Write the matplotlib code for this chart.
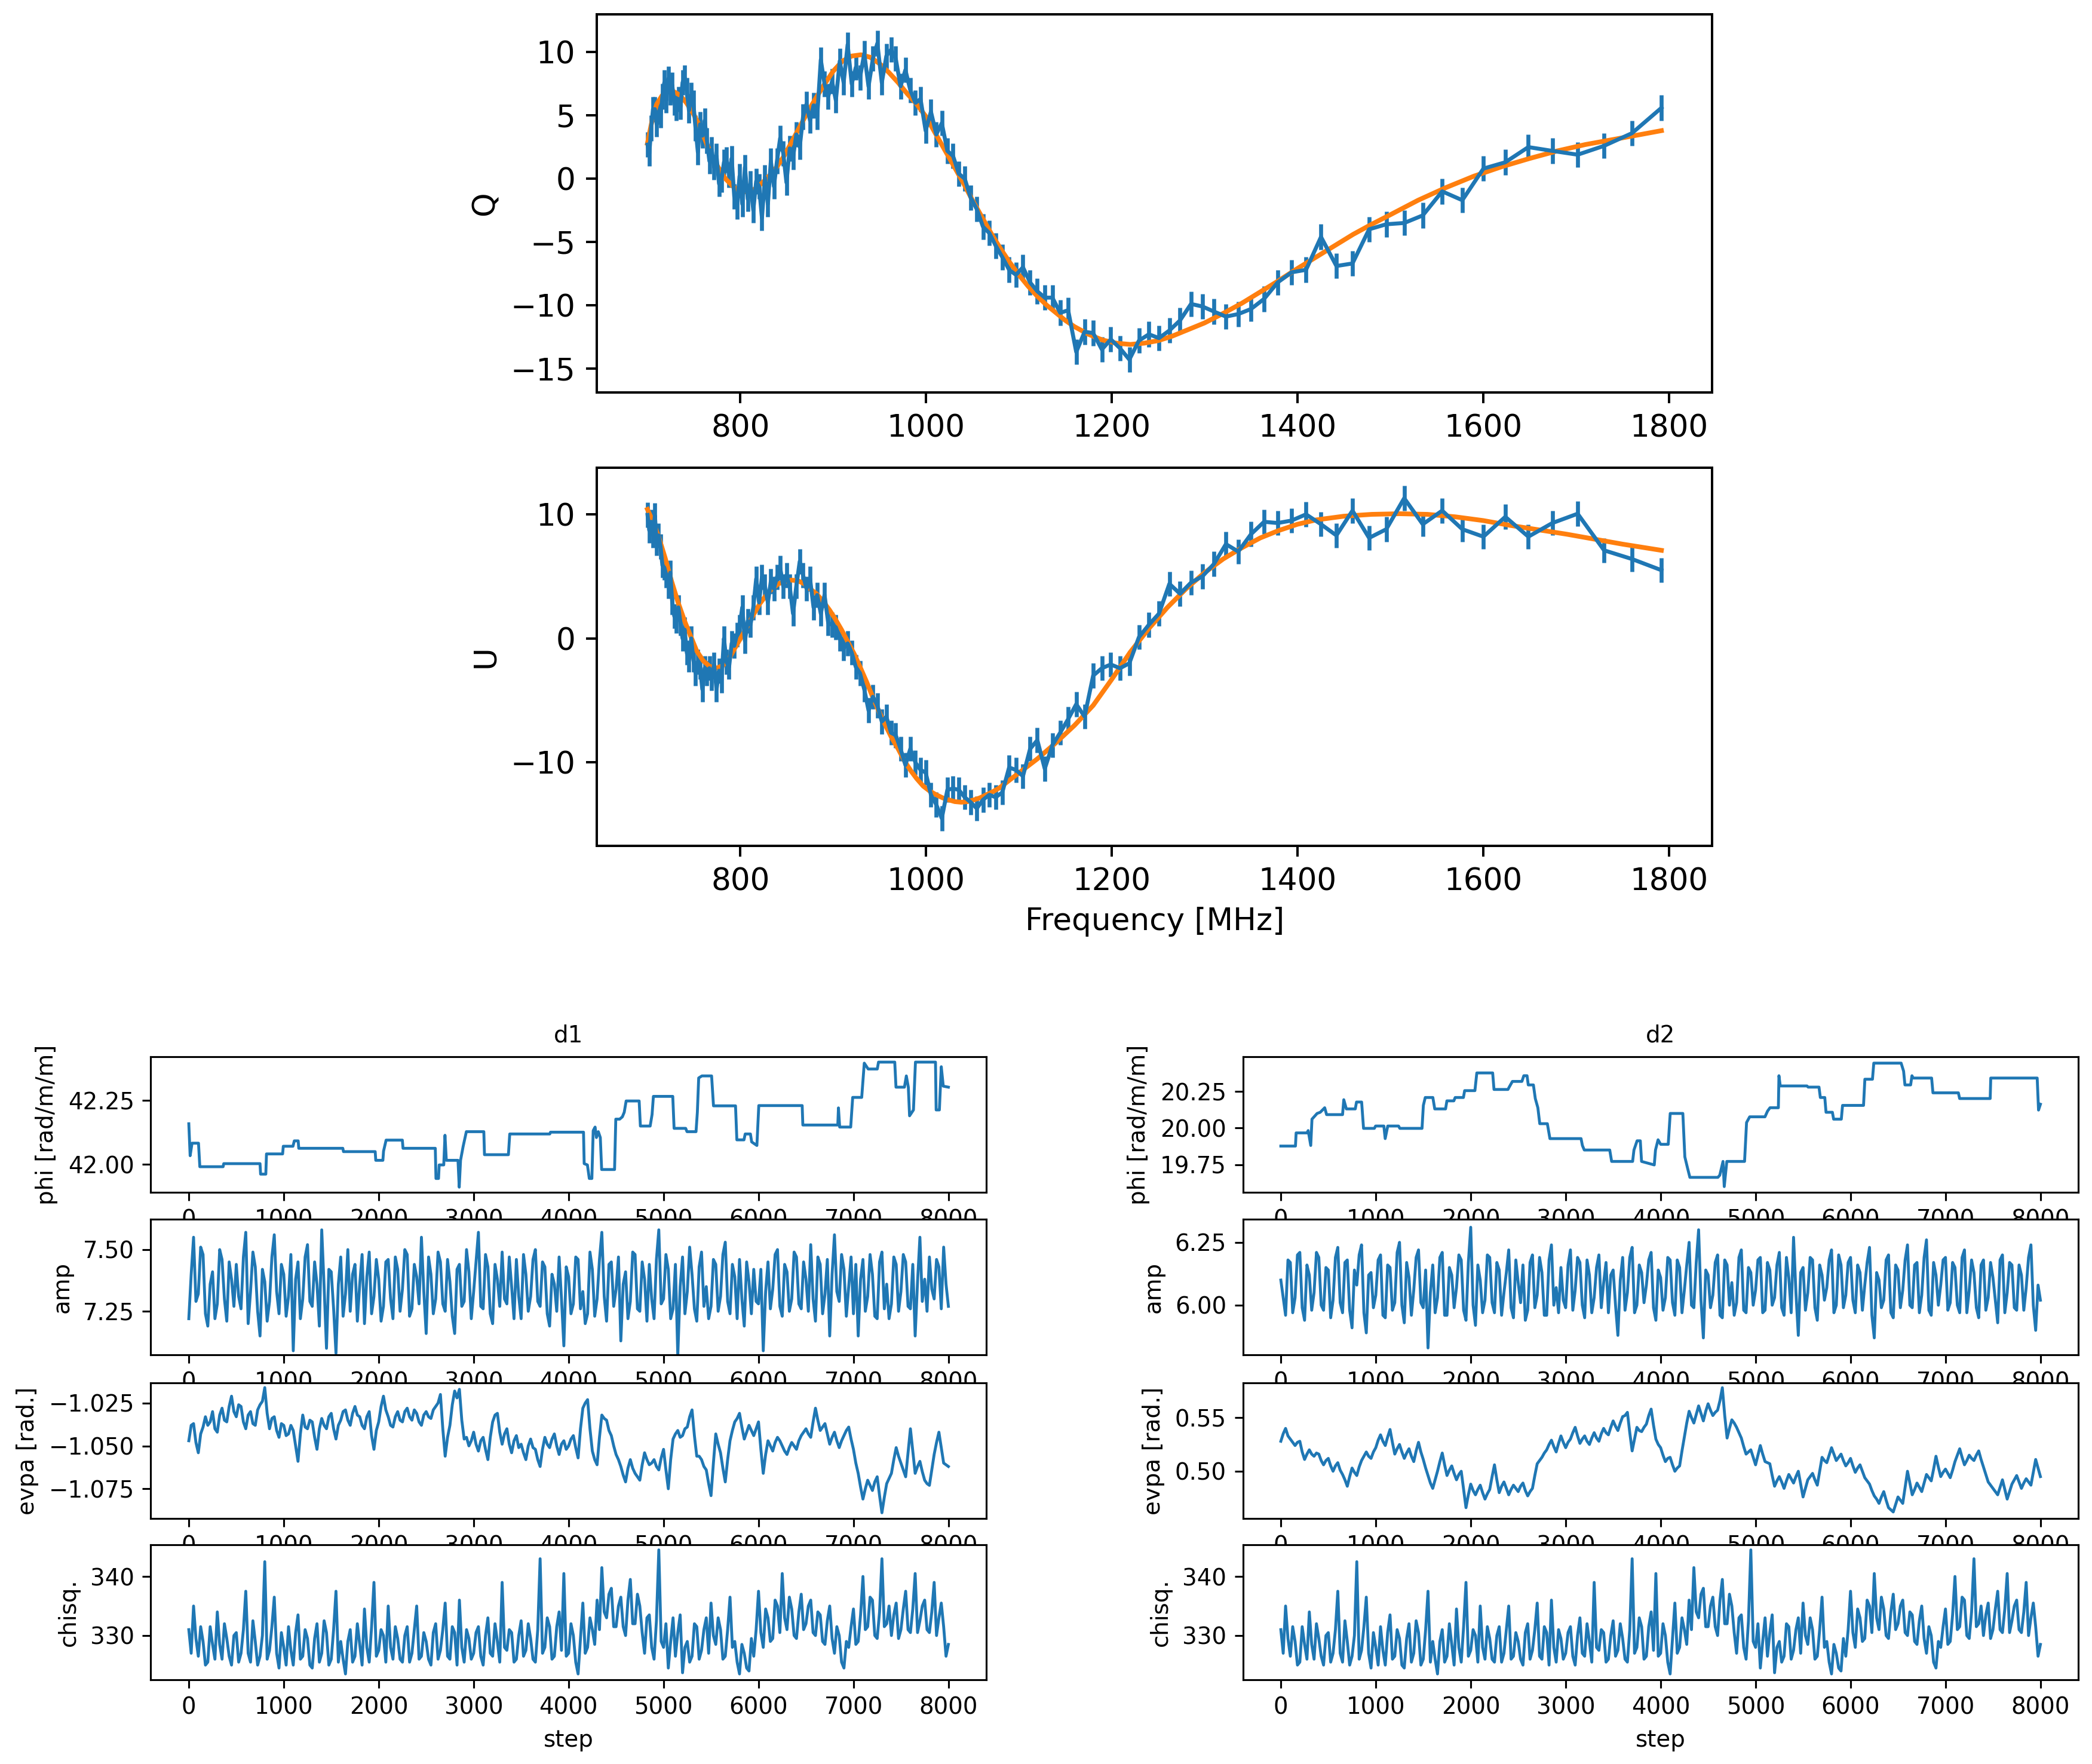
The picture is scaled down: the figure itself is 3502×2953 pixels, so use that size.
import numpy as np
import matplotlib
matplotlib.use("Agg")
import matplotlib.pyplot as plt

# ---- Stokes Q / U spectra (blue = data, orange = model) ----
freq_mhz = [
    700.1, 702.0, 704.0, 706.0, 708.0, 710.0, 712.0, 714.1, 716.1, 718.2,
    720.3, 722.4, 724.6, 726.7, 728.9, 731.1, 733.3, 735.6, 737.8, 740.1,
    742.4, 744.7, 747.1, 749.4, 751.8, 754.3, 756.7, 759.1, 761.6, 764.1,
    766.7, 769.2, 771.8, 774.4, 777.1, 779.7, 782.4, 785.1, 787.9, 790.7,
    793.5, 796.3, 799.2, 802.1, 805.0, 808.0, 811.0, 814.0, 817.1, 820.2,
    823.3, 826.5, 829.7, 832.9, 836.2, 839.5, 842.9, 846.3, 849.7, 853.2,
    856.8, 860.3, 864.0, 867.6, 871.3, 875.1, 878.9, 882.8, 886.7, 890.7,
    894.7, 898.8, 902.9, 907.1, 911.3, 915.6, 920.0, 924.4, 928.9, 933.5,
    938.1, 942.8, 947.6, 952.4, 957.3, 962.3, 967.4, 972.6, 977.8, 983.1,
    988.6, 994.1, 999.6, 1005.3, 1011.1, 1017.0, 1023.0, 1029.1, 1035.3, 1041.7,
    1048.1, 1054.7, 1061.4, 1068.2, 1075.1, 1082.2, 1089.5, 1096.9, 1104.4, 1112.1,
    1119.9, 1127.9, 1136.1, 1144.5, 1153.1, 1161.8, 1170.8, 1180.0, 1189.4, 1199.0,
    1208.9, 1219.0, 1229.3, 1240.0, 1250.9, 1262.1, 1273.6, 1285.4, 1297.6, 1310.1,
    1323.0, 1336.3, 1350.0, 1364.1, 1378.7, 1393.7, 1409.3, 1425.4, 1442.0, 1459.3,
    1477.2, 1495.7, 1515.0, 1535.0, 1555.9, 1577.6, 1600.3, 1623.9, 1648.7, 1674.6,
    1701.8, 1730.3, 1760.3, 1792.0]

q_obs = [
    2.7, 2.0, 4.0, 5.5, 5.5, 4.3, 5.3, 5.0, 6.5, 7.6,
    6.2, 7.9, 6.8, 7.4, 6.0, 5.6, 6.3, 5.7, 7.6, 8.0,
    7.0, 5.4, 6.6, 6.0, 4.0, 2.1, 4.3, 3.4, 4.6, 3.0,
    1.4, 2.3, 0.9, 1.8, -0.4, -0.1, 1.3, 1.5, 0.3, 1.6,
    -1.4, -2.2, 0.2, -2.0, 0.9, -1.6, -0.4, -2.5, -0.2, -0.6,
    -3.1, 0.1, -2.0, 1.4, -0.6, 1.4, 3.2, 2.0, -0.3, 2.4,
    1.7, 3.5, 2.5, 4.9, 5.9, 4.6, 5.8, 4.9, 9.4, 7.5,
    6.5, 7.7, 6.2, 9.3, 7.6, 10.6, 7.5, 8.8, 8.0, 9.9,
    7.3, 9.5, 10.7, 7.6, 9.7, 10.2, 9.5, 7.3, 8.6, 7.0,
    6.0, 6.3, 3.8, 5.3, 3.5, 4.4, 2.2, 1.8, 0.4, 0.0,
    -1.5, -2.4, -3.8, -4.3, -5.3, -6.2, -7.2, -7.6, -7.0, -8.2,
    -8.9, -9.4, -9.4, -10.6, -10.4, -13.7, -12.1, -12.2, -13.5, -12.7,
    -13.4, -14.3, -12.8, -12.3, -12.6, -12.0, -11.2, -9.9, -10.1, -10.5,
    -10.9, -10.7, -10.3, -9.5, -8.2, -7.4, -7.2, -4.6, -6.9, -6.7,
    -4.0, -3.6, -3.5, -2.9, -1.0, -1.7, 0.8, 1.3, 2.5, 2.2,
    1.9, 2.6, 3.6, 5.6]

u_obs = [
    9.95, 8.7, 9.4, 8.3, 9.9, 7.7, 8.3, 7.4, 5.9, 5.7,
    5.1, 4.2, 5.3, 2.9, 1.8, 1.4, 2.5, 1.25, 0.0, 0.7,
    -1.15, -1.7, 0.0, -1.7, -2.8, -1.9, -2.3, -4.1, -2.4, -2.8,
    -2.4, -3.2, -2.1, -4.1, -2.6, -3.4, 0.0, -1.9, -2.3, -0.4,
    -0.6, 0.3, 0.9, 2.5, -0.2, 1.4, 1.1, 2.5, 4.8, 2.9,
    4.95, 4.2, 2.9, 4.6, 4.0, 4.95, 5.7, 4.2, 5.1, 4.2,
    2.0, 4.2, 6.2, 5.1, 4.0, 4.8, 2.5, 3.5, 2.0, 3.5,
    1.25, 1.1, 0.9, 0.0, -0.8, -0.4, -1.15, -2.3, -2.8, -4.1,
    -5.8, -4.7, -5.4, -6.7, -6.3, -7.6, -7.8, -8.9, -10.2, -8.9,
    -10.0, -10.6, -10.8, -12.6, -13.4, -14.5, -12.2, -12.1, -12.2, -12.8,
    -13.2, -13.7, -13.0, -12.6, -12.8, -12.4, -10.4, -10.6, -11.1, -8.9,
    -8.2, -10.5, -8.6, -7.6, -6.5, -5.3, -6.3, -3.0, -2.4, -2.1,
    -2.4, -2.0, 0.1, 1.1, 2.0, 4.4, 3.6, 4.5, 5.0, 6.0,
    7.6, 7.0, 8.4, 9.4, 9.3, 9.5, 10.0, 9.2, 8.3, 10.3,
    8.1, 8.8, 11.3, 9.2, 10.3, 8.8, 8.2, 9.8, 8.2, 9.3,
    10.05, 7.1, 6.4, 5.5]

qu_err = 1.0

q_model_freq = [
    700, 705, 710, 716, 722, 728, 735, 742, 749, 756, 763, 770, 777, 784, 792,
    800, 808, 816, 824, 832, 840, 848, 856, 864, 872, 880, 890, 900, 910, 920,
    930, 940, 950, 960, 970, 980, 990, 1000, 1010, 1020, 1030, 1040, 1050, 1060,
    1070, 1080, 1090, 1100, 1110, 1120, 1130, 1140, 1150, 1160, 1175, 1190, 1205,
    1220, 1235, 1250, 1265, 1280, 1300, 1320, 1340, 1360, 1380, 1400, 1420, 1440,
    1460, 1480, 1500, 1530, 1560, 1590, 1620, 1650, 1680, 1710, 1740, 1770, 1792]
q_model = [
    2.8, 4.6, 5.9, 6.6, 6.9, 6.9, 6.6, 6.0, 5.2, 4.2, 2.9, 1.7, 0.8, 0.0, -0.6,
    -1.0, -1.05, -0.8, -0.3, 0.3, 1.0, 1.9, 3.0, 4.1, 5.2, 6.2, 7.4, 8.5, 9.3, 9.7,
    9.8, 9.6, 9.1, 8.4, 7.6, 6.7, 5.9, 4.9, 3.6, 2.3, 1.0, -0.3, -1.7, -3.0,
    -4.3, -5.5, -6.6, -7.6, -8.5, -9.3, -10.0, -10.6, -11.2, -11.7, -12.3, -12.75, -13.0,
    -13.1, -13.0, -12.8, -12.45, -12.0, -11.4, -10.65, -9.85, -8.95, -8.05, -7.1, -6.2, -5.3,
    -4.4, -3.6, -2.85, -1.7, -0.7, 0.2, 0.95, 1.6, 2.2, 2.7, 3.1, 3.5, 3.8]

u_model_freq = [
    700, 706, 712, 719, 726, 733, 740, 747, 753, 760, 767, 774, 781, 788, 794,
    801, 807, 814, 821, 828, 834, 841, 848, 855, 862, 869, 875, 882, 889, 896,
    902, 909, 916, 923, 929, 936, 943, 950, 957, 963, 970, 977, 984, 990, 997,
    1004, 1011, 1018, 1024, 1031, 1038, 1045, 1052, 1058, 1065, 1072, 1079, 1092,
    1106, 1120, 1140, 1160, 1180, 1200, 1220, 1240, 1260, 1280, 1300, 1320, 1340,
    1360, 1380, 1400, 1420, 1450, 1480, 1510, 1540, 1570, 1600, 1630, 1660, 1690,
    1720, 1750, 1792]
u_model = [
    10.4, 9.4, 8.2, 6.5, 4.6, 2.9, 1.4, 0.1, -1.0, -1.8, -2.25, -2.4, -2.2, -1.6, -0.8,
    0.1, 0.9, 1.9, 2.8, 3.5, 4.0, 4.4, 4.6, 4.7, 4.65, 4.4, 4.0, 3.6, 3.0, 2.3,
    1.6, 0.7, -0.3, -1.3, -2.3, -3.5, -4.8, -6.0, -7.1, -8.0, -8.9, -9.9, -10.7, -11.3, -11.9,
    -12.3, -12.6, -12.85, -13.0, -13.15, -13.2, -13.15, -13.0, -12.85, -12.6, -12.35, -12.05, -11.3,
    -10.5, -9.7, -8.4, -7.0, -5.4, -3.3, -1.1, 0.8, 2.5, 4.0, 5.3, 6.4, 7.3,
    8.1, 8.7, 9.2, 9.55, 9.85, 10.0, 10.05, 10.0, 9.8, 9.5, 9.1, 8.75, 8.4,
    8.0, 7.6, 7.1]

# ---- MCMC chains ----
# phi chains: corner points of the (piecewise constant) walk
phi1_step = [
    0, 14, 34, 102, 116, 361, 368, 750, 756, 811, 818, 988, 995, 1097, 1111, 1152,
    1158, 1622, 1629, 1963, 1969, 2044, 2051, 2078, 2249, 2256, 2596, 2603, 2630, 2637,
    2685, 2698, 2712, 2835, 2848, 2862, 2889, 2923, 3107, 3114, 3366, 3380, 3802, 3809,
    4157, 4164, 4198, 4218, 4245, 4259, 4279, 4293, 4313, 4334, 4348, 4484, 4497, 4538,
    4566, 4586, 4606, 4743, 4756, 4859, 4879, 4893, 5097, 5111, 5233, 5247, 5342, 5356,
    5370, 5404, 5506, 5526, 5758, 5772, 5847, 5860, 5915, 5928, 5983, 6003, 6460, 6467,
    6835, 6842, 6855, 6971, 6992, 7087, 7114, 7155, 7251, 7264, 7435, 7448, 7537, 7557,
    7578, 7591, 7632, 7653, 7864, 7871, 7905, 7925, 7946, 8000]
phi1_val = [
    42.159, 42.034, 42.083, 42.083, 41.991, 41.991, 42.003, 42.003, 41.962, 41.962,
    42.041, 42.041, 42.071, 42.071, 42.092, 42.092, 42.063, 42.063, 42.050, 42.050,
    42.016, 42.016, 42.052, 42.095, 42.095, 42.063, 42.063, 41.945, 41.945, 41.998,
    41.998, 42.114, 42.016, 42.016, 41.911, 42.016, 42.070, 42.128, 42.128, 42.038,
    42.038, 42.119, 42.119, 42.126, 42.126, 42.003, 41.998, 41.945, 41.945, 42.132,
    42.146, 42.105, 42.128, 42.105, 41.980, 41.980, 42.177, 42.177, 42.186, 42.204,
    42.248, 42.248, 42.150, 42.150, 42.195, 42.266, 42.266, 42.141, 42.141, 42.128,
    42.128, 42.204, 42.338, 42.346, 42.346, 42.229, 42.229, 42.096, 42.096, 42.119,
    42.119, 42.088, 42.074, 42.230, 42.230, 42.154, 42.154, 42.221, 42.146, 42.146,
    42.262, 42.262, 42.396, 42.373, 42.373, 42.400, 42.400, 42.302, 42.302, 42.346,
    42.302, 42.190, 42.213, 42.400, 42.400, 42.213, 42.213, 42.382, 42.306, 42.302]

phi2_step = [
    0, 154, 161, 275, 288, 315, 328, 382, 415, 462, 482, 650, 663, 690, 784, 797,
    851, 871, 985, 998, 1085, 1099, 1126, 1240, 1253, 1487, 1501, 1521, 1601, 1621,
    1735, 1749, 1822, 1836, 1923, 1936, 2044, 2064, 2231, 2245, 2392, 2405, 2439, 2539,
    2559, 2593, 2606, 2660, 2680, 2707, 2727, 2807, 2834, 3162, 3176, 3196, 3464, 3484,
    3705, 3719, 3752, 3786, 3799, 3933, 3946, 3973, 4000, 4080, 4101, 4234, 4255, 4281,
    4308, 4603, 4623, 4657, 4670, 4697, 4884, 4905, 4938, 5099, 5126, 5152, 5240, 5246,
    5260, 5541, 5554, 5668, 5682, 5729, 5742, 5809, 5822, 5903, 5916, 6137, 6151, 6231,
    6245, 6533, 6559, 6573, 6633, 6647, 6660, 6854, 6868, 7136, 7149, 7471, 7477, 7966,
    7980, 8000]
phi2_val = [
    19.877, 19.877, 19.967, 19.967, 19.983, 19.881, 20.061, 20.100, 20.108, 20.139,
    20.092, 20.092, 20.194, 20.131, 20.131, 20.178, 20.178, 19.998, 19.998, 20.014,
    20.014, 19.928, 20.014, 20.014, 19.998, 19.998, 20.155, 20.209, 20.209, 20.131,
    20.131, 20.186, 20.186, 20.209, 20.209, 20.256, 20.256, 20.377, 20.377, 20.264,
    20.264, 20.280, 20.319, 20.319, 20.358, 20.358, 20.295, 20.295, 20.202, 20.139,
    20.030, 20.030, 19.928, 19.928, 19.881, 19.850, 19.850, 19.772, 19.772, 19.850,
    19.913, 19.913, 19.772, 19.748, 19.850, 19.920, 19.889, 19.889, 20.100, 20.100,
    19.803, 19.733, 19.663, 19.663, 19.678, 19.772, 19.600, 19.772, 19.772, 20.038,
    20.077, 20.077, 20.116, 20.139, 20.139, 20.358, 20.288, 20.288, 20.280, 20.280,
    20.209, 20.209, 20.108, 20.108, 20.061, 20.061, 20.155, 20.155, 20.334, 20.334,
    20.444, 20.444, 20.389, 20.295, 20.295, 20.358, 20.342, 20.342, 20.241, 20.241,
    20.202, 20.202, 20.342, 20.342, 20.123, 20.163]

# other chains: values read every 50 steps (0..8000) plus the
# in-between samples (25..7975)
amp1 = [
    7.22, 7.55, 7.32, 7.48, 7.19, 7.41, 7.28, 7.46, 7.21, 7.38,
    7.44, 7.26, 7.57, 7.33, 7.43, 7.15, 7.37, 7.29, 7.56, 7.24,
    7.40, 7.31, 7.09, 7.45, 7.30, 7.52, 7.27, 7.36, 7.58, 7.10,
    7.41, 7.08, 7.47, 7.32, 7.25, 7.44, 7.36, 7.20, 7.49, 7.31,
    7.38, 7.27, 7.46, 7.22, 7.42, 7.34, 7.48, 7.26, 7.39, 7.55,
    7.16, 7.40, 7.30, 7.45, 7.25, 7.37, 7.16, 7.44, 7.29, 7.41,
    7.33, 7.57, 7.26, 7.43, 7.20, 7.38, 7.49, 7.28, 7.35, 7.46,
    7.22, 7.40, 7.31, 7.50, 7.27, 7.43, 7.19, 7.36, 7.47, 7.11,
    7.39, 7.28, 7.46, 7.33, 7.24, 7.42, 7.30, 7.57, 7.21, 7.45,
    7.34, 7.13, 7.41, 7.29, 7.48, 7.25, 7.38, 7.44, 7.22, 7.58,
    7.30, 7.42, 7.26, 7.07, 7.47, 7.33, 7.40, 7.21, 7.49, 7.35,
    7.27, 7.44, 7.31, 7.53, 7.24, 7.39, 7.46, 7.19, 7.37, 7.42,
    7.28, 7.09, 7.45, 7.34, 7.50, 7.23, 7.41, 7.30, 7.47, 7.26,
    7.38, 7.52, 7.21, 7.44, 7.32, 7.15, 7.56, 7.29, 7.42, 7.35,
    7.24, 7.15, 7.46, 7.31, 7.40, 7.22, 7.49, 7.36, 7.28, 7.44,
    7.33, 7.45, 7.26, 7.15, 7.55, 7.38, 7.47, 7.30, 7.43, 7.51,
    7.27]
amp1_mid = [
    7.40, 7.29, 7.51, 7.24, 7.36, 7.22, 7.50, 7.30, 7.45, 7.27,
    7.31, 7.47, 7.20, 7.49, 7.25, 7.42, 7.21, 7.47, 7.33, 7.44,
    7.23, 7.48, 7.38, 7.22, 7.47, 7.29, 7.45, 7.19, 7.35, 7.42,
    7.26, 7.36, 7.23, 7.50, 7.40, 7.21, 7.48, 7.39, 7.24, 7.46,
    7.21, 7.45, 7.30, 7.47, 7.25, 7.50, 7.23, 7.44, 7.28, 7.33,
    7.47, 7.24, 7.49, 7.28, 7.46, 7.23, 7.42, 7.27, 7.50, 7.22,
    7.45, 7.27, 7.48, 7.24, 7.44, 7.27, 7.30, 7.47, 7.22, 7.31,
    7.48, 7.25, 7.46, 7.29, 7.45, 7.24, 7.40, 7.25, 7.30, 7.43,
    7.24, 7.47, 7.26, 7.20, 7.49, 7.23, 7.46, 7.31, 7.44, 7.27,
    7.47, 7.36, 7.22, 7.49, 7.26, 7.45, 7.21, 7.30, 7.46, 7.28,
    7.48, 7.22, 7.44, 7.35, 7.24, 7.51, 7.26, 7.43, 7.27, 7.22,
    7.46, 7.25, 7.48, 7.29, 7.44, 7.22, 7.30, 7.45, 7.24, 7.29,
    7.42, 7.33, 7.26, 7.48, 7.27, 7.44, 7.25, 7.49, 7.28, 7.45,
    7.25, 7.30, 7.47, 7.24, 7.46, 7.40, 7.33, 7.48, 7.23, 7.47,
    7.44, 7.38, 7.25, 7.48, 7.23, 7.45, 7.26, 7.22, 7.47, 7.25,
    7.48, 7.27, 7.44, 7.37, 7.29, 7.25, 7.34, 7.46, 7.26, 7.36]

amp2 = [
    6.10, 5.96, 6.17, 6.03, 6.21, 5.94, 6.12, 6.05, 6.19, 5.98,
    6.14, 6.02, 6.23, 5.97, 6.18, 5.91, 6.08, 6.24, 5.89, 6.13,
    6.04, 6.20, 5.95, 6.15, 6.01, 6.25, 5.93, 6.11, 6.06, 6.22,
    5.99, 5.83, 6.16, 6.03, 6.21, 5.96, 6.12, 6.07, 6.18, 5.94,
    6.31, 5.92, 6.10, 6.02, 6.19, 5.97, 6.14, 6.05, 6.22, 5.95,
    6.09, 6.16, 5.98, 6.20, 6.04, 6.13, 5.96, 6.24, 6.07, 6.15,
    5.99, 6.22, 6.06, 6.17, 5.95, 6.12, 6.03, 6.20, 6.09, 5.97,
    6.14, 5.88, 6.19, 6.05, 6.23, 6.00, 6.13, 6.08, 6.21, 5.94,
    6.11, 6.03, 6.18, 5.96, 6.15, 6.06, 6.25, 5.99, 6.30, 5.87,
    6.12, 6.04, 6.20, 5.95, 6.16, 6.09, 6.01, 6.22, 5.97, 6.13,
    6.06, 6.19, 5.98, 6.14, 6.03, 6.21, 5.96, 6.11, 6.27, 5.88,
    6.15, 6.05, 6.18, 5.94, 6.12, 6.07, 6.22, 6.00, 6.16, 6.04,
    6.19, 5.97, 6.13, 6.08, 6.23, 5.87, 6.10, 6.02, 6.20, 5.95,
    6.14, 6.06, 6.24, 5.99, 6.17, 6.04, 6.26, 5.96, 6.12, 6.08,
    6.19, 6.01, 6.15, 5.97, 6.22, 6.06, 6.13, 5.95, 6.18, 6.03,
    6.11, 5.93, 6.20, 6.05, 6.16, 5.98, 6.12, 6.07, 6.24, 5.90,
    6.02]
amp2_mid = [
    6.03, 6.18, 5.97, 6.20, 5.99, 6.16, 5.98, 6.21, 6.00, 6.15,
    5.95, 6.19, 6.01, 6.17, 5.98, 6.14, 6.20, 5.97, 6.12, 5.99,
    6.18, 5.96, 6.16, 5.98, 6.21, 6.00, 6.17, 5.96, 6.19, 6.01,
    6.14, 6.05, 5.97, 6.19, 5.96, 6.15, 5.99, 6.20, 5.98, 6.17,
    6.00, 6.16, 5.97, 6.20, 6.01, 6.17, 5.96, 6.13, 5.99, 6.18,
    6.01, 5.94, 6.17, 5.99, 6.19, 5.96, 6.18, 6.00, 5.97, 6.02,
    6.16, 5.98, 6.19, 6.00, 6.18, 5.97, 6.15, 5.99, 6.17, 6.12,
    6.00, 6.10, 5.98, 6.19, 5.97, 6.16, 6.01, 6.18, 5.99, 6.14,
    5.98, 6.19, 6.01, 6.18, 5.97, 6.16, 6.00, 6.17, 6.02, 6.14,
    5.99, 6.17, 5.96, 6.18, 6.00, 5.96, 6.19, 5.98, 6.15, 6.00,
    6.18, 5.97, 6.17, 6.00, 6.16, 5.99, 6.19, 5.97, 6.05, 6.13,
    5.98, 6.19, 5.99, 6.16, 6.02, 6.18, 5.97, 6.20, 5.99, 6.17,
    6.02, 6.16, 5.98, 6.17, 5.96, 6.13, 5.99, 6.18, 5.97, 6.16,
    5.99, 6.18, 6.00, 6.16, 5.97, 6.19, 5.98, 6.17, 6.00, 6.18,
    5.98, 6.17, 6.00, 6.19, 5.97, 6.18, 5.99, 6.16, 5.98, 6.17,
    6.02, 6.18, 5.97, 6.17, 5.99, 6.16, 5.98, 6.19, 6.00, 6.08]

evpa1 = [
    -1.047, -1.037, -1.054, -1.039, -1.038, -1.030, -1.042, -1.028, -1.036, -1.021,
    -1.033, -1.027, -1.040, -1.030, -1.038, -1.026, -1.016, -1.040, -1.033, -1.045,
    -1.038, -1.043, -1.041, -1.059, -1.032, -1.040, -1.036, -1.052, -1.034, -1.040,
    -1.031, -1.046, -1.035, -1.029, -1.038, -1.027, -1.033, -1.040, -1.030, -1.052,
    -1.036, -1.021, -1.033, -1.039, -1.030, -1.036, -1.028, -1.035, -1.031, -1.038,
    -1.030, -1.034, -1.027, -1.020, -1.056, -1.038, -1.018, -1.017, -1.046, -1.050,
    -1.042, -1.053, -1.045, -1.058, -1.036, -1.031, -1.049, -1.040, -1.054, -1.044,
    -1.049, -1.058, -1.046, -1.052, -1.062, -1.045, -1.051, -1.043, -1.055, -1.047,
    -1.050, -1.044, -1.057, -1.028, -1.023, -1.053, -1.061, -1.032, -1.035, -1.044,
    -1.055, -1.062, -1.071, -1.058, -1.066, -1.070, -1.054, -1.061, -1.058, -1.064,
    -1.052, -1.075, -1.046, -1.041, -1.044, -1.039, -1.029, -1.056, -1.058, -1.064,
    -1.079, -1.043, -1.054, -1.071, -1.047, -1.036, -1.031, -1.046, -1.038, -1.044,
    -1.036, -1.066, -1.047, -1.053, -1.045, -1.050, -1.055, -1.048, -1.052, -1.044,
    -1.040, -1.045, -1.028, -1.041, -1.037, -1.049, -1.042, -1.051, -1.044, -1.039,
    -1.052, -1.066, -1.081, -1.070, -1.076, -1.068, -1.089, -1.072, -1.066, -1.051,
    -1.060, -1.068, -1.040, -1.066, -1.059, -1.070, -1.073, -1.055, -1.042, -1.060,
    -1.062]
evpa1_mid = [
    -1.038, -1.048, -1.043, -1.033, -1.036, -1.040, -1.032, -1.035, -1.027, -1.030,
    -1.026, -1.036, -1.032, -1.037, -1.029, -1.024, -1.031, -1.034, -1.041, -1.037,
    -1.044, -1.038, -1.050, -1.043, -1.039, -1.035, -1.045, -1.040, -1.038, -1.033,
    -1.040, -1.038, -1.030, -1.035, -1.031, -1.032, -1.038, -1.033, -1.044, -1.041,
    -1.027, -1.029, -1.038, -1.033, -1.035, -1.030, -1.033, -1.029, -1.036, -1.032,
    -1.033, -1.029, -1.025, -1.040, -1.045, -1.026, -1.022, -1.035, -1.045, -1.047,
    -1.049, -1.047, -1.052, -1.045, -1.032, -1.042, -1.043, -1.049, -1.047, -1.051,
    -1.054, -1.050, -1.051, -1.058, -1.052, -1.049, -1.046, -1.050, -1.049, -1.052,
    -1.046, -1.051, -1.040, -1.025, -1.040, -1.058, -1.045, -1.034, -1.041, -1.050,
    -1.058, -1.067, -1.063, -1.063, -1.068, -1.061, -1.058, -1.060, -1.062, -1.057,
    -1.064, -1.058, -1.043, -1.045, -1.040, -1.033, -1.044, -1.056, -1.062, -1.072,
    -1.060, -1.049, -1.063, -1.058, -1.041, -1.034, -1.039, -1.042, -1.041, -1.040,
    -1.052, -1.055, -1.050, -1.048, -1.047, -1.053, -1.051, -1.050, -1.047, -1.042,
    -1.043, -1.036, -1.035, -1.039, -1.043, -1.045, -1.047, -1.047, -1.041, -1.046,
    -1.060, -1.074, -1.075, -1.073, -1.071, -1.079, -1.080, -1.069, -1.058, -1.056,
    -1.064, -1.054, -1.053, -1.062, -1.065, -1.072, -1.064, -1.048, -1.051, -1.061]

evpa2 = [
    0.528, 0.540, 0.530, 0.524, 0.528, 0.511, 0.520, 0.514, 0.516, 0.506,
    0.512, 0.500, 0.508, 0.497, 0.486, 0.503, 0.496, 0.510, 0.518, 0.512,
    0.522, 0.534, 0.524, 0.539, 0.516, 0.525, 0.512, 0.521, 0.509, 0.527,
    0.511, 0.496, 0.484, 0.500, 0.517, 0.496, 0.505, 0.492, 0.500, 0.466,
    0.488, 0.478, 0.487, 0.474, 0.483, 0.506, 0.480, 0.490, 0.478, 0.487,
    0.481, 0.489, 0.477, 0.484, 0.507, 0.513, 0.520, 0.529, 0.518, 0.533,
    0.522, 0.530, 0.541, 0.526, 0.533, 0.525, 0.536, 0.528, 0.540, 0.534,
    0.547, 0.538, 0.551, 0.555, 0.519, 0.541, 0.537, 0.544, 0.558, 0.530,
    0.522, 0.509, 0.513, 0.500, 0.505, 0.532, 0.556, 0.545, 0.561, 0.547,
    0.563, 0.552, 0.557, 0.578, 0.531, 0.548, 0.541, 0.531, 0.516, 0.520,
    0.506, 0.524, 0.509, 0.507, 0.486, 0.495, 0.484, 0.497, 0.489, 0.500,
    0.476, 0.492, 0.498, 0.487, 0.513, 0.508, 0.522, 0.510, 0.516, 0.505,
    0.512, 0.499, 0.506, 0.494, 0.488, 0.477, 0.470, 0.481, 0.466, 0.462,
    0.476, 0.470, 0.500, 0.478, 0.489, 0.481, 0.497, 0.491, 0.514, 0.495,
    0.502, 0.494, 0.509, 0.521, 0.506, 0.515, 0.510, 0.519, 0.504, 0.490,
    0.484, 0.478, 0.492, 0.474, 0.488, 0.496, 0.484, 0.493, 0.487, 0.511,
    0.495]
evpa2_mid = [
    0.535, 0.533, 0.527, 0.527, 0.518, 0.516, 0.516, 0.517, 0.510, 0.510,
    0.505, 0.505, 0.501, 0.492, 0.495, 0.499, 0.504, 0.514, 0.514, 0.518,
    0.529, 0.528, 0.532, 0.527, 0.521, 0.518, 0.517, 0.514, 0.519, 0.518,
    0.503, 0.489, 0.492, 0.509, 0.506, 0.501, 0.498, 0.497, 0.483, 0.478,
    0.482, 0.483, 0.480, 0.479, 0.495, 0.492, 0.486, 0.484, 0.483, 0.484,
    0.486, 0.482, 0.481, 0.496, 0.510, 0.517, 0.525, 0.523, 0.526, 0.527,
    0.527, 0.536, 0.533, 0.530, 0.528, 0.531, 0.531, 0.535, 0.536, 0.541,
    0.542, 0.545, 0.552, 0.536, 0.530, 0.538, 0.541, 0.552, 0.543, 0.525,
    0.515, 0.512, 0.506, 0.503, 0.519, 0.545, 0.550, 0.553, 0.554, 0.556,
    0.557, 0.555, 0.566, 0.552, 0.540, 0.545, 0.536, 0.523, 0.518, 0.513,
    0.515, 0.516, 0.508, 0.496, 0.491, 0.490, 0.491, 0.493, 0.495, 0.488,
    0.484, 0.495, 0.492, 0.500, 0.510, 0.515, 0.516, 0.513, 0.510, 0.508,
    0.505, 0.503, 0.500, 0.491, 0.482, 0.474, 0.476, 0.473, 0.464, 0.469,
    0.473, 0.485, 0.489, 0.483, 0.485, 0.489, 0.494, 0.502, 0.504, 0.499,
    0.498, 0.501, 0.515, 0.513, 0.510, 0.512, 0.515, 0.511, 0.497, 0.487,
    0.481, 0.485, 0.483, 0.481, 0.492, 0.490, 0.489, 0.490, 0.499, 0.503]

chisq = [
    331.0, 335.0, 326.5, 329.0, 325.5, 328.5, 334.0, 326.0, 329.5, 325.0,
    330.5, 327.0, 337.5, 325.5, 329.0, 326.5, 342.5, 327.5, 336.5, 324.5,
    328.0, 331.5, 325.0, 333.5, 326.5, 329.5, 324.5, 332.0, 327.0, 330.5,
    326.0, 337.5, 329.0, 323.5, 331.0, 326.5, 328.5, 334.5, 325.5, 339.0,
    327.5, 330.0, 335.0, 326.0, 329.5, 325.5, 331.5, 327.0, 335.0, 326.5,
    329.0, 325.0, 332.0, 327.5, 335.5, 326.0, 330.5, 336.0, 325.5, 329.5,
    327.0, 331.5, 325.0, 333.0, 326.5, 329.0, 339.0, 327.5, 330.5, 326.0,
    332.5, 327.5, 329.5, 325.5, 343.0, 328.0, 331.5, 326.5, 334.0, 340.5,
    327.0, 330.0, 323.5, 335.5, 328.0, 331.0, 336.0, 341.5, 333.0, 338.0,
    331.5, 336.5, 330.0, 339.5, 332.0, 335.0, 327.0, 333.5, 326.0, 344.5,
    328.0, 324.5, 333.0, 330.5, 323.7, 329.0, 326.5, 331.5, 327.5, 333.0,
    335.5, 328.5, 331.0, 326.5, 336.5, 329.0, 323.5, 327.0, 324.0, 326.5,
    337.5, 328.0, 333.0, 329.5, 335.0, 340.5, 331.0, 334.5, 329.5, 337.0,
    332.0, 336.0, 330.0, 333.5, 328.5, 335.0, 327.0, 330.0, 324.5, 328.0,
    334.5, 329.0, 340.0, 331.5, 336.0, 329.5, 343.0, 332.0, 330.0, 335.5,
    331.0, 337.5, 330.5, 340.5, 332.5, 336.0, 330.5, 339.0, 333.0, 331.5,
    328.5]
chisq_mid = [
    327.0, 329.5, 331.5, 325.0, 331.5, 326.0, 328.5, 332.0, 326.5, 330.0,
    325.5, 331.0, 327.0, 332.5, 325.0, 330.0, 326.0, 331.5, 327.0, 330.5,
    325.0, 327.5, 330.5, 326.0, 331.0, 325.0, 329.5, 325.5, 332.5, 325.0,
    331.0, 325.5, 326.0, 329.0, 325.5, 332.0, 325.0, 328.0, 331.5, 326.5,
    331.0, 325.5, 328.0, 331.5, 326.0, 330.0, 325.5, 331.0, 326.0, 330.5,
    326.0, 330.5, 326.0, 331.0, 326.5, 331.5, 325.0, 328.0, 331.0, 326.0,
    330.5, 326.5, 330.0, 327.0, 332.0, 325.5, 328.0, 331.0, 325.5, 330.0,
    326.5, 332.0, 326.0, 331.0, 327.0, 333.0, 326.0, 331.5, 327.5, 326.5,
    332.0, 325.5, 329.5, 327.0, 333.0, 328.5, 331.0, 334.0, 337.0, 331.5,
    335.0, 331.5, 336.0, 332.0, 337.0, 330.5, 333.0, 328.0, 332.5, 329.0,
    332.0, 329.0, 326.5, 333.5, 328.0, 325.5, 332.0, 326.0, 331.0, 327.0,
    330.0, 333.0, 326.0, 331.0, 328.0, 325.5, 328.5, 324.5, 329.5, 331.0,
    330.5, 334.5, 329.0, 336.0, 330.5, 333.0, 336.5, 330.0, 334.0, 331.0,
    335.0, 330.5, 334.0, 329.0, 332.5, 329.5, 331.5, 325.5, 329.0, 331.5,
    328.5, 333.5, 331.0, 336.5, 330.0, 334.0, 331.5, 335.0, 333.5, 329.5,
    334.5, 331.0, 334.5, 330.5, 335.0, 331.0, 334.0, 330.0, 335.5, 326.5]


def interleave(on_grid, between):
    out = np.empty(len(on_grid) + len(between))
    out[0::2] = on_grid
    out[1::2] = between
    return np.linspace(0, 8000, len(out)), out


W, H = 3502, 2953
fig = plt.figure(figsize=(W / 300, H / 300), dpi=300)

TOP_FS = 12.4
BOT_FS = 9.3


def style_axes(ax, fs, lw, tick_len):
    for sp in ax.spines.values():
        sp.set_linewidth(lw)
    ax.tick_params(labelsize=fs, width=lw, length=tick_len, pad=tick_len)


# ---- top: Q and U vs frequency ----
ax_q = fig.add_axes([0.2853, 0.7775, 0.5331, 0.2144])
ax_u = fig.add_axes([0.2853, 0.5206, 0.5331, 0.2142])

for ax, obs, mfreq, model, lab, ylim, yt in [
        (ax_q, q_obs, q_model_freq, q_model, "Q", (-16.9, 13.0), [-15, -10, -5, 0, 5, 10]),
        (ax_u, u_obs, u_model_freq, u_model, "U", (-16.7, 13.75), [-10, 0, 10])]:
    ax.errorbar(freq_mhz, obs, yerr=qu_err, color="C0", lw=1.6, elinewidth=1.6)
    ax.plot(mfreq, model, color="C1", lw=1.9)
    ax.set_xlim(645.5, 1846.6)
    ax.set_ylim(*ylim)
    ax.set_xticks([800, 1000, 1200, 1400, 1600, 1800])
    ax.set_yticks(yt)
    ax.set_ylabel(lab, fontsize=TOP_FS)
    style_axes(ax, TOP_FS, 0.96, 4.3)
ax_u.set_xlabel("Frequency [MHz]", fontsize=TOP_FS)

# ---- bottom: MCMC traces ----
rows_y = [0.3241, 0.2320, 0.1393, 0.0477]
row_h = 0.0767
cols_x = [0.0721, 0.5941]
col_w = 0.3994

chisq_trace = interleave(chisq, chisq_mid)
columns = [
    ("d1", (phi1_step, phi1_val), interleave(amp1, amp1_mid),
     interleave(evpa1, evpa1_mid),
     [(41.891, 42.42), (7.074, 7.622), (-1.0922, -1.0133)],
     [[42.0, 42.25], [7.25, 7.5], [-1.075, -1.05, -1.025]]),
    ("d2", (phi2_step, phi2_val), interleave(amp2, amp2_mid),
     interleave(evpa2, evpa2_mid),
     [(19.561, 20.486), (5.803, 6.341), (0.4561, 0.5824)],
     [[19.75, 20.0, 20.25], [6.0, 6.25], [0.5, 0.55]]),
]
ylabels = ["phi [rad/m/m]", "amp", "evpa [rad.]", "chisq."]

for (title, phi, amp, evpa, lims, ticks), x0 in zip(columns, cols_x):
    traces = [phi, amp, evpa, chisq_trace]
    all_lims = lims + [(322.5, 345.4)]
    all_ticks = ticks + [[330, 340]]
    for i, (xs, ys) in enumerate(traces):
        ax = fig.add_axes([x0, rows_y[i], col_w, row_h])
        ax.plot(xs, ys, color="C0", lw=1.15)
        ax.set_xlim(-400, 8400)
        ax.set_ylim(*all_lims[i])
        ax.set_xticks(np.arange(0, 8001, 1000))
        ax.set_yticks(all_ticks[i])
        ax.set_ylabel(ylabels[i], fontsize=BOT_FS)
        style_axes(ax, BOT_FS, 0.75, 3.3)
        if i == 0:
            ax.set_title(title, fontsize=BOT_FS)
        if i == 3:
            ax.set_xlabel("step", fontsize=BOT_FS)

fig.savefig("out.png", dpi=300)
